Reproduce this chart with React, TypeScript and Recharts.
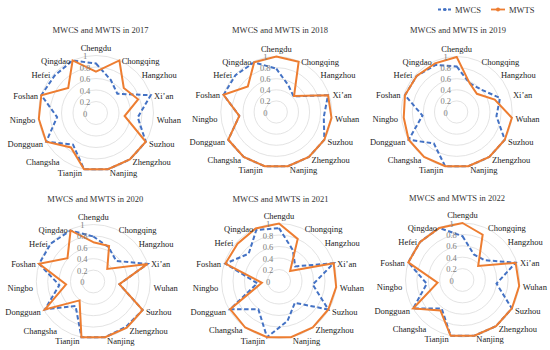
import React from 'react';
import { RadarChart, Radar, PolarGrid, PolarAngleAxis, PolarRadiusAxis } from 'recharts';

const cities = ['Chengdu', 'Chongqing', 'Hangzhou', 'Xi\u2019an', 'Wuhan', 'Suzhou', 'Zhengzhou', 'Nanjing', 'Tianjin', 'Changsha', 'Dongguan', 'Ningbo', 'Foshan', 'Hefei', 'Qingdao'];
const years = ['2017', '2018', '2019', '2020', '2021', '2022'];
const radiusTicks = [0, 0.2, 0.4, 0.6, 0.8, 1];
const seriesNames = ['MWCS', 'MWTS'];

const mwcs2017 = [0.86, 0.63, 0.5, 1.0, 0.73, 1.0, 1.0, 1.0, 1.0, 0.68, 1.0, 0.68, 1.0, 0.97, 1.0];
const mwts2017 = [0.72, 1.0, 0.65, 0.77, 0.5, 1.0, 1.0, 1.0, 1.0, 0.74, 1.0, 1.0, 1.0, 0.65, 1.0];
const mwcs2018 = [0.78, 0.53, 0.42, 0.98, 0.86, 1.0, 1.0, 1.0, 1.0, 1.0, 1.0, 0.67, 1.0, 0.99, 0.98];
const mwts2018 = [1.0, 0.99, 0.43, 0.98, 1.0, 1.0, 1.0, 1.0, 1.0, 1.0, 1.0, 0.67, 1.0, 0.69, 0.98];
const mwcs2019 = [0.82, 0.57, 0.6, 0.82, 0.72, 1.0, 1.0, 1.0, 1.0, 0.7, 1.0, 0.62, 0.98, 0.97, 0.93];
const mwts2019 = [0.99, 0.57, 0.49, 0.72, 1.0, 1.0, 1.0, 1.0, 1.0, 1.0, 1.0, 0.96, 0.98, 0.97, 0.96];
const mwcs2020 = [0.79, 0.66, 0.54, 1.0, 0.46, 1.0, 0.98, 1.0, 1.0, 0.53, 0.98, 0.6, 1.0, 1.0, 0.98];
const mwts2020 = [0.69, 0.68, 0.33, 1.0, 0.46, 1.0, 1.0, 1.0, 1.0, 0.41, 0.98, 0.48, 1.0, 0.61, 0.98];
const mwcs2021 = [0.92, 0.59, 0.38, 1.0, 0.59, 0.99, 0.47, 0.71, 1.0, 0.61, 0.98, 0.38, 0.98, 0.71, 0.97];
const mwts2021 = [1.0, 0.8, 0.26, 1.0, 1.0, 0.99, 1.0, 1.0, 1.0, 1.0, 0.98, 0.3, 0.98, 0.97, 1.0];
const mwcs2022 = [0.77, 0.49, 0.52, 0.98, 0.6, 1.0, 1.0, 1.0, 1.0, 0.62, 1.0, 0.63, 1.0, 1.0, 1.0];
const mwts2022 = [1.0, 0.87, 0.37, 0.98, 1.0, 1.0, 1.0, 1.0, 1.0, 0.66, 1.0, 0.44, 1.0, 1.0, 1.0];

const mwcsByYear = [mwcs2017, mwcs2018, mwcs2019, mwcs2020, mwcs2021, mwcs2022];
const mwtsByYear = [mwts2017, mwts2018, mwts2019, mwts2020, mwts2021, mwts2022];

// layout (positions only)
const layout = [
  { cx: 96, cy: 113, r: 57.5, tx: 100.5, ty: 29.5 },
  { cx: 276.3, cy: 112, r: 55.5, tx: 280, ty: 29.5 },
  { cx: 456.7, cy: 112, r: 55.5, tx: 458, ty: 29.5 },
  { cx: 93.3, cy: 281.5, r: 57, tx: 95.3, ty: 199 },
  { cx: 279, cy: 281, r: 57.5, tx: 280.5, ty: 198.5 },
  { cx: 462.5, cy: 280, r: 57, tx: 457, ty: 198 },
];

const BLUE = '#4472C4';
const ORANGE = '#ED7D31';
const SERIF = "'Liberation Serif', 'Times New Roman', serif";

const makeCityTick = (L: { cx: number; cy: number; r: number }) => (props: any) => {
  const { payload } = props;
  const a = (payload.coordinate * Math.PI) / 180;
  const dx = Math.cos(a);
  const dy = -Math.sin(a);
  const x = L.cx + L.r * dx;
  const y = L.cy + L.r * dy;
  let anchor: 'middle' | 'start' | 'end' = 'middle';
  let tx = x;
  let ty = y;
  if (Math.abs(dx) < 0.05) {
    ty = dy < 0 ? y - 8 : y + 8;
  } else {
    anchor = dx > 0 ? 'start' : 'end';
    tx = x + Math.sign(dx) * (1.5 + 2 * Math.abs(dx));
    ty = y + Math.max(0, dy) * 3 + 0.5;
  }
  return (
    <text x={tx} y={ty} textAnchor={anchor} dominantBaseline="central" fontSize={8.5} fontFamily={SERIF} fill="#222">
      {payload.value}
    </text>
  );
};

const RadTick = (props: any) => {
  const { x, y, payload } = props;
  const v = Math.round(Number(payload.value) * 10) / 10;
  return (
    <text x={x - 11} y={y + 0.5} textAnchor="middle" dominantBaseline="central" fontSize={8.5} fontFamily={SERIF} fill="#808080">
      {String(v)}
    </text>
  );
};

function Panel({ idx }: { idx: number }) {
  const L = layout[idx];
  const data = cities.map((c, i) => ({ city: c, mwcs: mwcsByYear[idx][i], mwts: mwtsByYear[idx][i] }));
  return (
    <div style={{ position: 'absolute', left: 0, top: 0, width: 550, height: 350 }}>
      <RadarChart
        width={550}
        height={350}
        cx={L.cx}
        cy={L.cy}
        outerRadius={L.r}
        data={data}
        margin={{ top: 0, right: 0, bottom: 0, left: 0 }}
        startAngle={90}
        endAngle={-270}
      >
        <PolarGrid gridType="circle" radialLines={false} stroke="#dcdcdc" strokeWidth={0.8} />
        <PolarAngleAxis dataKey="city" tick={makeCityTick(L)} tickLine={false} axisLine={false} tickSize={0} />
        <PolarRadiusAxis
          type="number"
          domain={[0, 1]}
          ticks={radiusTicks as any}
          tickCount={6}
          allowDecimals={true}
          angle={90}
          axisLine={false}
          tickLine={false}
          tick={RadTick}
        />
        <Radar
          name={seriesNames[0]}
          dataKey="mwcs"
          stroke={BLUE}
          strokeWidth={2}
          strokeDasharray="4.5 2.5"
          fill="none"
          fillOpacity={0}
          dot={{ r: 1.6, fill: BLUE, stroke: 'none', strokeWidth: 0 }}
          isAnimationActive={false}
        />
        <Radar
          name={seriesNames[1]}
          dataKey="mwts"
          stroke={ORANGE}
          strokeWidth={2}
          fill="none"
          fillOpacity={0}
          dot={{ r: 2, fill: ORANGE, stroke: 'none', strokeWidth: 0 }}
          isAnimationActive={false}
        />
      </RadarChart>
    </div>
  );
}

export default function App() {
  return (
    <div style={{ position: 'absolute', left: 0, top: 0, width: 550, height: 350, background: '#fff', overflow: 'hidden' }}>
      {years.map((y, i) => (
        <Panel key={y} idx={i} />
      ))}
      <svg width={550} height={350} style={{ position: 'absolute', left: 0, top: 0, pointerEvents: 'none' }}>
        {years.map((y, i) => (
          <text key={y} x={layout[i].tx} y={layout[i].ty} textAnchor="middle" dominantBaseline="central" fontSize={8.5} fontFamily={SERIF} fill="#333">
            {`MWCS and MWTS in ${y}`}
          </text>
        ))}
        <line x1={438} y1={9.5} x2={452} y2={9.5} stroke={BLUE} strokeWidth={1.8} strokeDasharray="3 2" />
        <circle cx={445} cy={9.5} r={1.6} fill={BLUE} />
        <text x={455} y={9.5} dominantBaseline="central" fontSize={8.5} fontFamily={SERIF} fill="#333">{seriesNames[0]}</text>
        <line x1={491} y1={9.5} x2={505} y2={9.5} stroke={ORANGE} strokeWidth={1.8} />
        <circle cx={498} cy={9.5} r={2} fill={ORANGE} />
        <text x={509} y={9.5} dominantBaseline="central" fontSize={8.5} fontFamily={SERIF} fill="#333">{seriesNames[1]}</text>
      </svg>
    </div>
  );
}
